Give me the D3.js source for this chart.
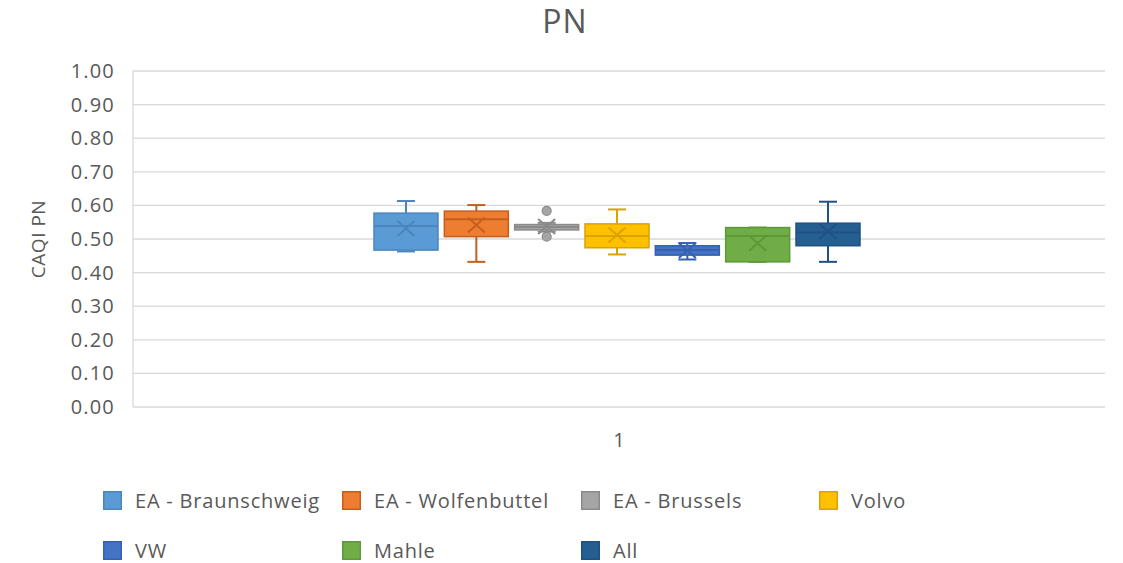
<!DOCTYPE html>
<html>
<head>
<meta charset="utf-8">
<script src="https://cdn.jsdelivr.net/npm/d3@7"></script>
<style>
  html, body { margin: 0; padding: 0; background: #ffffff; }
  svg { display: block; font-family: "Open Sans", sans-serif; }
</style>
</head>
<body>
<svg id="chart" width="1123" height="563"></svg>
<script>
// Box-and-whisker statistics for CAQI PN, one box per source
const categories = ["1"];
const seriesNames = ["EA - Braunschweig", "EA - Wolfenbuttel", "EA - Brussels", "Volvo", "VW", "Mahle", "All"];
const minValues    = [0.463, 0.432, 0.522, 0.454, 0.439, 0.432, 0.432];
const q1Values     = [0.467, 0.507, 0.527, 0.474, 0.452, 0.432, 0.480];
const medianValues = [0.539, 0.559, 0.536, 0.509, 0.467, 0.509, 0.519];
const q3Values     = [0.577, 0.583, 0.543, 0.545, 0.480, 0.534, 0.547];
const maxValues    = [0.613, 0.601, 0.548, 0.588, 0.488, 0.534, 0.611];
const meanValues   = [0.531, 0.542, 0.537, 0.512, 0.466, 0.487, 0.522];
const outlierValues = [[], [], [0.584, 0.507], [], [], [], []];
const yTicks = [0, 0.1, 0.2, 0.3, 0.4, 0.5, 0.6, 0.7, 0.8, 0.9, 1.0];

const fillColors   = ["#5B9BD5", "#ED7D31", "#A5A5A5", "#FFC000", "#4472C4", "#70AD47", "#255E91"];
const strokeColors = ["#4A86BE", "#C55E1E", "#8A8A8A", "#D9A300", "#3461B0", "#5B9A37", "#1F5283"];

const boxes = seriesNames.map((name, i) => ({
  name, min: minValues[i], q1: q1Values[i], median: medianValues[i], q3: q3Values[i],
  max: maxValues[i], mean: meanValues[i], outliers: outlierValues[i],
  fill: fillColors[i], stroke: strokeColors[i]
}));

const svg = d3.select("#chart");
const textColor = "#595959";
const gridColor = "#d9d9d9";

const plot = { left: 133, right: 1105, top: 71, bottom: 407 };

const y = d3.scaleLinear().domain([0, 1]).range([plot.bottom, plot.top]);
const x = d3.scaleBand().domain(categories).range([plot.left, plot.right]);
const groupFrac = 0.5;
const xs = d3.scaleBand().domain(seriesNames).paddingInner(0.09).paddingOuter(0);

// Title
svg.append("text")
  .attr("x", 565).attr("y", 33)
  .attr("text-anchor", "middle")
  .attr("font-size", 32)
  .attr("letter-spacing", 1)
  .attr("fill", textColor)
  .text("PN");

// Gridlines
svg.append("g").selectAll("line").data(yTicks).join("line")
  .attr("x1", plot.left).attr("x2", plot.right)
  .attr("y1", d => y(d)).attr("y2", d => y(d))
  .attr("stroke", gridColor).attr("stroke-width", 1.3);

// Left axis line
svg.append("line")
  .attr("x1", plot.left).attr("x2", plot.left)
  .attr("y1", plot.top).attr("y2", plot.bottom)
  .attr("stroke", gridColor).attr("stroke-width", 1.3);

// Y axis labels
const yAxis = d3.axisLeft(y).tickValues(yTicks).tickFormat(d3.format(".2f")).tickSize(0).tickPadding(18);
const yg = svg.append("g").attr("transform", `translate(${plot.left},0)`).call(yAxis);
yg.select(".domain").remove();
yg.selectAll("text").attr("font-size", 20).attr("letter-spacing", 1.2)
  .attr("fill", textColor).attr("font-family", "Open Sans, sans-serif");

// Y axis title
svg.append("text")
  .attr("transform", `translate(45,${(plot.top + plot.bottom) / 2}) rotate(-90)`)
  .attr("text-anchor", "middle")
  .attr("font-size", 19)
  .attr("letter-spacing", 0.5)
  .attr("fill", textColor)
  .text("CAQI PN");

// X axis category label
const xg = svg.append("g").attr("transform", `translate(0,${plot.bottom})`)
  .call(d3.axisBottom(x).tickSize(0).tickPadding(26));
xg.select(".domain").remove();
xg.selectAll("text").attr("font-size", 20).attr("fill", textColor).attr("font-family", "Open Sans, sans-serif");

// Boxes
const catX = x(categories[0]);
const bw = x.bandwidth();
xs.range([catX + bw * (1 - groupFrac) / 2 - 2, catX + bw * (1 + groupFrac) / 2 - 2]);
const boxW = xs.bandwidth();
const capW = 18;
const markerHalfW = 8.5, markerHalfH = 7.5;

const g = svg.append("g").selectAll("g").data(boxes).join("g");

g.each(function(d) {
  const sel = d3.select(this);
  const x0 = xs(d.name);
  const cx = x0 + boxW / 2;
  // whiskers
  sel.append("line").attr("x1", cx).attr("x2", cx).attr("y1", y(d.max)).attr("y2", y(d.q3))
    .attr("stroke", d.stroke).attr("stroke-width", 2);
  sel.append("line").attr("x1", cx).attr("x2", cx).attr("y1", y(d.q1)).attr("y2", y(d.min))
    .attr("stroke", d.stroke).attr("stroke-width", 2);
  [d.max, d.min].forEach(v => {
    sel.append("line").attr("x1", cx - capW / 2).attr("x2", cx + capW / 2)
      .attr("y1", y(v)).attr("y2", y(v))
      .attr("stroke", d.stroke).attr("stroke-width", 2);
  });
  // box
  sel.append("rect")
    .attr("x", x0).attr("width", boxW)
    .attr("y", y(d.q3)).attr("height", Math.max(1, y(d.q1) - y(d.q3)))
    .attr("fill", d.fill).attr("stroke", d.stroke).attr("stroke-width", 1.5);
  // median
  sel.append("line").attr("x1", x0).attr("x2", x0 + boxW)
    .attr("y1", y(d.median)).attr("y2", y(d.median))
    .attr("stroke", d.stroke).attr("stroke-width", 2);
  // mean marker (X)
  const my = y(d.mean);
  sel.append("path")
    .attr("d", `M${cx - markerHalfW},${my - markerHalfH}L${cx + markerHalfW},${my + markerHalfH}M${cx + markerHalfW},${my - markerHalfH}L${cx - markerHalfW},${my + markerHalfH}`)
    .attr("stroke", d.stroke).attr("stroke-width", 2).attr("fill", "none");
  // outliers
  sel.selectAll("circle").data(d.outliers).join("circle")
    .attr("cx", cx).attr("cy", v => y(v)).attr("r", 4.5)
    .attr("fill", d.fill).attr("stroke", d.stroke).attr("stroke-width", 1.2);
});

// Legend
const legendCols = [103, 342, 581, 819];
const legendRows = [491, 541];
const lg = svg.append("g").selectAll("g").data(boxes).join("g")
  .attr("transform", (d, i) => `translate(${legendCols[i % 4]},${legendRows[Math.floor(i / 4)]})`);
lg.append("rect").attr("x", 0.75).attr("y", 0.75).attr("width", 17.5).attr("height", 17.5)
  .attr("fill", d => d.fill).attr("stroke", d => d.stroke).attr("stroke-width", 1.5);
lg.append("text").attr("x", 32).attr("y", 16.5)
  .attr("font-size", 20).attr("letter-spacing", 0.8).attr("fill", textColor)
  .text(d => d.name);
</script>
</body>
</html>
